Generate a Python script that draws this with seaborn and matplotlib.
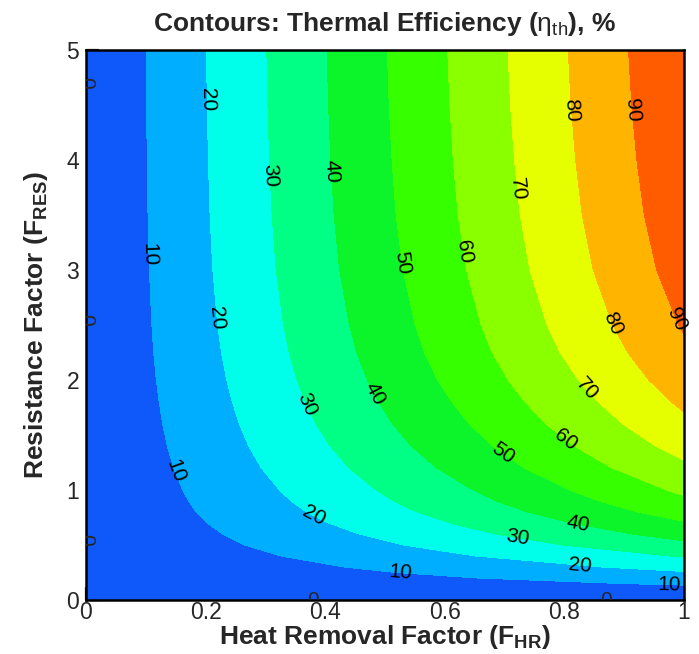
import numpy as np
import seaborn as sns
import matplotlib.pyplot as plt
from matplotlib.ticker import MultipleLocator

# resistance factor samples and the efficiency (%) read at F_HR = 1 (right edge)
f_res = [0, 0.05, 0.1, 0.15, 0.2, 0.25, 0.3, 0.4, 0.5, 0.6, 0.7, 0.8, 0.9, 1.0,
         1.2, 1.4, 1.6, 1.8, 2.0, 2.25, 2.5, 3.0, 3.5, 4.0, 4.5, 5.0]
eta_at_full_hr = [0, 3.5, 7.3, 11.2, 15.3, 19.3, 23.2, 30.7, 37.7, 43.8, 49.3, 54.2,
                  58.3, 61.8, 68.2, 73.5, 78.0, 81.7, 85.0, 88.3, 90.8, 94.3, 96.4,
                  97.7, 98.6, 99.2]
# efficiency is zero along F_HR = 0
eta_at_zero_hr = [0] * len(f_res)
f_hr = [0, 1]

levels = [0, 10, 20, 30, 40, 50, 60, 70, 80, 90, 100]
band_colors = ["#0F58FA", "#00AEFF", "#00FFEB", "#00FF84", "#0BF52A",
               "#36FF00", "#8AFF00", "#E6FF00", "#FFB400", "#FF5C00"]

# where the contour labels sit (F_HR, F_RES)
label_spots = [(0.104, 3.14), (0.145, 1.16), (0.525, 0.227), (0.975, 0.13),
               (0.199, 4.55), (0.213, 2.56), (0.38, 0.755), (0.826, 0.30),
               (0.304, 3.86), (0.361, 1.755), (0.722, 0.545),
               (0.403, 3.89), (0.475, 1.85), (0.823, 0.68),
               (0.522, 3.06), (0.692, 1.29),
               (0.617, 3.15), (0.796, 1.41),
               (0.712, 3.73), (0.826, 1.86),
               (0.806, 4.45), (0.86, 2.47),
               (0.905, 4.45), (0.975, 2.52)]
zero_left = [4.7, 2.55, 0.55]
zero_bottom = [0.38, 0.87]

sns.set_theme(style="ticks")
plt.rcParams['font.family'] = ['Liberation Sans', 'DejaVu Sans']
plt.rcParams['mathtext.fontset'] = 'custom'
plt.rcParams['mathtext.rm'] = 'Liberation Sans'
plt.rcParams['mathtext.it'] = 'Liberation Sans:italic'
plt.rcParams['mathtext.bf'] = 'Liberation Sans:bold'

X, Y = np.meshgrid(f_hr, f_res)
Z = np.column_stack([eta_at_zero_hr, eta_at_full_hr])

fig = plt.figure(figsize=(6.99, 6.54), dpi=100)
ax = fig.add_axes([86 / 699, 54 / 654, 598 / 699, 550 / 654])

ax.contourf(X, Y, Z, levels=levels, colors=band_colors)
lines = ax.contour(X, Y, Z, levels=levels[1:-1], colors="black", linewidths=0)
labels = ax.clabel(lines, manual=label_spots, inline=False, fmt="%d", fontsize=15, colors="black")
for t in labels:
    t.set_clip_on(False)

for yv in zero_left:
    ax.text(0, yv, "0", rotation=-90, ha="center", va="center", fontsize=15, clip_on=True)
for xv in zero_bottom:
    ax.text(xv, 0, "0", ha="center", va="center", fontsize=15, clip_on=True)

ax.set_xlim(0, 1)
ax.set_ylim(0, 5)
ax.xaxis.set_minor_locator(MultipleLocator(0.05))
ax.yaxis.set_major_locator(MultipleLocator(1))
ax.yaxis.set_minor_locator(MultipleLocator(0.2))
ax.set_xticks([0, 0.2, 0.4, 0.6, 0.8, 1.0], ["0", "0.2", "0.4", "0.6", "0.8", "1"])
ax.tick_params(which="both", direction="in", top=False, right=False, labelsize=16.5)
ax.tick_params(which="major", length=9.5, width=1.6)
ax.tick_params(which="minor", length=4.5, width=1.0)
ax.tick_params(axis="x", pad=1)
ax.tick_params(axis="y", pad=5)
for s in ax.spines.values():
    s.set_linewidth(1.8)
    s.set_color("black")

ax.set_title(r"Contours: Thermal Efficiency ($\mathrm{\eta}_{\mathrm{th}}$), %",
             fontsize=19, fontweight="bold", pad=14)
ax.set_xlabel(r"Heat Removal Factor (F$_{\mathbf{HR}}$)", fontsize=19, fontweight="bold", labelpad=-1)
ax.set_ylabel(r"Resistance Factor (F$_{\mathbf{RES}}$)", fontsize=19, fontweight="bold", labelpad=12)

fig.savefig("out.png", dpi=100)
